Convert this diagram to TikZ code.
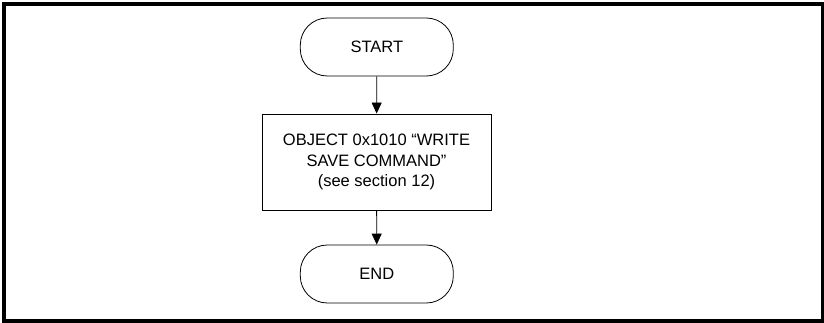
\documentclass[tikz,border=0pt]{standalone}
\usepackage{fontspec}
\setmainfont{Liberation Sans}
\usetikzlibrary{arrows.meta}
\begin{document}
\begin{tikzpicture}[x=1pt,y=1pt,
  term/.style={draw=black, line width=0.8pt, rounded corners=27pt, minimum width=153pt, minimum height=58pt, inner sep=0pt, font=\fontsize{16.5}{20.5}\selectfont},
  procbox/.style={draw=black, line width=0.8pt, minimum width=229pt, minimum height=96.5pt, inner sep=0pt, align=center, font=\fontsize{16.5}{20.5}\selectfont},
  conn/.style={line width=0.8pt, -{Triangle[length=11pt,width=10pt]}}]
\useasboundingbox (0,0) rectangle (824,322);
\draw[line width=4pt] (4,1.5) rectangle (822.5,318);
\node[term] (start) at (376.8,275) {START};
\node[procbox] (obj) at (376.5,159.8) {OBJECT 0x1010 “WRITE\\SAVE COMMAND”\\(see section 12)};
\node[term] (end) at (376.8,48) {END};
\draw[conn] (start) -- (obj);
\draw[conn] (obj) -- (end);
\end{tikzpicture}
\end{document}
